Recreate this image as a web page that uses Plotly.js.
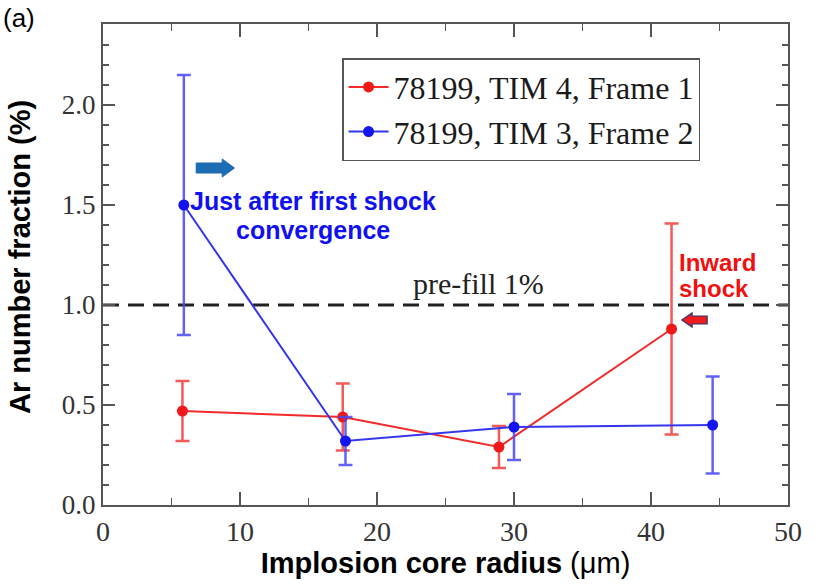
<!DOCTYPE html>
<html>
<head>
<meta charset="utf-8">
<script src="https://cdn.plot.ly/plotly-3.0.1.min.js"></script>
<style>html,body{margin:0;padding:0;background:#fff;}#chart{width:824px;height:585px;}</style>
</head>
<body>
<div id="chart"></div>
<script>
// Series 1: 78199, TIM 4, Frame 1
const radiusTim4 = [5.8, 17.5, 28.9, 41.5];
const fracTim4 = [0.47, 0.44, 0.29, 0.88];
const errTim4 = [0.15, 0.168, 0.105, 0.527];
// Series 2: 78199, TIM 3, Frame 2
const radiusTim3 = [5.9, 17.7, 30.0, 44.5];
const fracTim3 = [1.50, 0.32, 0.39, 0.40];
const errTim3 = [0.65, 0.12, 0.165, 0.243];
const seriesNames = ["78199, TIM 4, Frame 1", "78199, TIM 3, Frame 2"];
const prefill = 1.0;

const serif = "Liberation Serif, Times New Roman, serif";
const sans = "Liberation Sans, Arial, sans-serif";

const traces = [
  {
    x: radiusTim4, y: fracTim4, name: seriesNames[0], type: 'scatter', mode: 'lines+markers',
    line: {color: '#f22a2a', width: 2},
    marker: {color: '#f01818', size: 11},
    error_y: {type: 'data', array: errTim4, visible: true, color: 'rgba(240,60,60,0.85)', thickness: 2.5, width: 7}
  },
  {
    x: radiusTim3, y: fracTim3, name: seriesNames[1], type: 'scatter', mode: 'lines+markers',
    line: {color: '#3535ee', width: 2},
    marker: {color: '#1414ee', size: 11},
    error_y: {type: 'data', array: errTim3, visible: true, color: 'rgba(70,70,245,0.85)', thickness: 2.5, width: 7}
  }
];

const layout = {
  width: 824, height: 585,
  margin: {l: 103, r: 36, t: 24, b: 80},
  paper_bgcolor: '#fff', plot_bgcolor: '#fff',
  showlegend: true,
  legend: {
    x: 0.349, y: 0.929, xanchor: 'left', yanchor: 'top',
    bgcolor: '#fff', bordercolor: '#555', borderwidth: 1.5,
    font: {family: serif, size: 32, color: '#1a1a1a'},
    itemwidth: 40, tracegroupgap: 0
  },
  xaxis: {
    range: [0, 50], dtick: 10, tick0: 0,
    showgrid: false, zeroline: false,
    showline: true, linecolor: '#555', linewidth: 2, mirror: 'ticks',
    ticks: 'inside', ticklen: 13, tickwidth: 1.5, tickcolor: '#555',
    minor: {dtick: 5, ticks: 'inside', ticklen: 7, tickwidth: 1.5, tickcolor: '#555'},
    tickfont: {family: serif, size: 28, color: '#333'},
    title: {text: '<b>Implosion core radius</b> (μm)', font: {family: sans, size: 29, color: '#000'}, standoff: 6}
  },
  yaxis: {
    range: [0, 2.405], dtick: 0.5, tick0: 0, tickformat: '.1f',
    showgrid: false, zeroline: false,
    showline: true, linecolor: '#555', linewidth: 2, mirror: 'ticks',
    ticks: 'inside', ticklen: 12, tickwidth: 1.5, tickcolor: '#555',
    minor: {dtick: 0.1, ticks: 'inside', ticklen: 6, tickwidth: 1.5, tickcolor: '#555'},
    tickfont: {family: serif, size: 27, color: '#333'},
    title: {text: ''}
  },
  shapes: [
    {type: 'line', xref: 'paper', x0: 0, x1: 1, yref: 'y', y0: prefill, y1: prefill,
     line: {color: '#222', width: 3, dash: '16px,9px'}, layer: 'below'},
    // blue arrow (right-pointing)
    {type: 'path', xref: 'x', yref: 'y',
     path: 'M 6.8 1.66 L 8.7 1.66 L 8.7 1.64 L 9.6 1.685 L 8.7 1.73 L 8.7 1.71 L 6.8 1.71 Z',
     fillcolor: '#1c6db4', line: {color: '#1c6db4', width: 1}},
    // red arrow (left-pointing)
    {type: 'path', xref: 'x', yref: 'y',
     path: 'M 42.25 0.925 L 43.0 0.96 L 43.0 0.945 L 44.1 0.945 L 44.1 0.905 L 43.0 0.905 L 43.0 0.89 Z',
     fillcolor: '#ee1c1c', line: {color: '#333377', width: 1.2}}
  ],
  annotations: [
    {xref: 'paper', yref: 'paper', x: -102/685, y: (505-18)/481, xanchor: 'left', yanchor: 'middle',
     text: '(a)', showarrow: false, font: {family: sans, size: 26, color: '#000'}},
    {xref: 'paper', yref: 'paper', x: (20-103)/685, y: (505-257)/481, xanchor: 'center', yanchor: 'middle',
     textangle: -90, text: '<b>Ar number fraction (%)</b>', showarrow: false,
     font: {family: sans, size: 29, color: '#000'}},
    {xref: 'x', yref: 'y', x: 15.3, y: 1.52, xanchor: 'center', yanchor: 'middle',
     text: '<b>Just after first shock</b>', showarrow: false, font: {family: sans, size: 25, color: '#1010f0'}},
    {xref: 'x', yref: 'y', x: 15.3, y: 1.375, xanchor: 'center', yanchor: 'middle',
     text: '<b>convergence</b>', showarrow: false, font: {family: sans, size: 25, color: '#1010f0'}},
    {xref: 'x', yref: 'y', x: 41.9, y: 1.215, xanchor: 'left', yanchor: 'middle',
     text: '<b>Inward</b>', showarrow: false, font: {family: sans, size: 24, color: '#f01010'}},
    {xref: 'x', yref: 'y', x: 41.9, y: 1.085, xanchor: 'left', yanchor: 'middle',
     text: '<b>shock</b>', showarrow: false, font: {family: sans, size: 24, color: '#f01010'}},
    {xref: 'x', yref: 'y', x: 27.4, y: 1.11, xanchor: 'center', yanchor: 'middle',
     text: 'pre-fill 1%', showarrow: false, font: {family: serif, size: 30, color: '#222'}}
  ]
};

Plotly.newPlot('chart', traces, layout, {displayModeBar: false, staticPlot: true});
</script>
</body>
</html>
